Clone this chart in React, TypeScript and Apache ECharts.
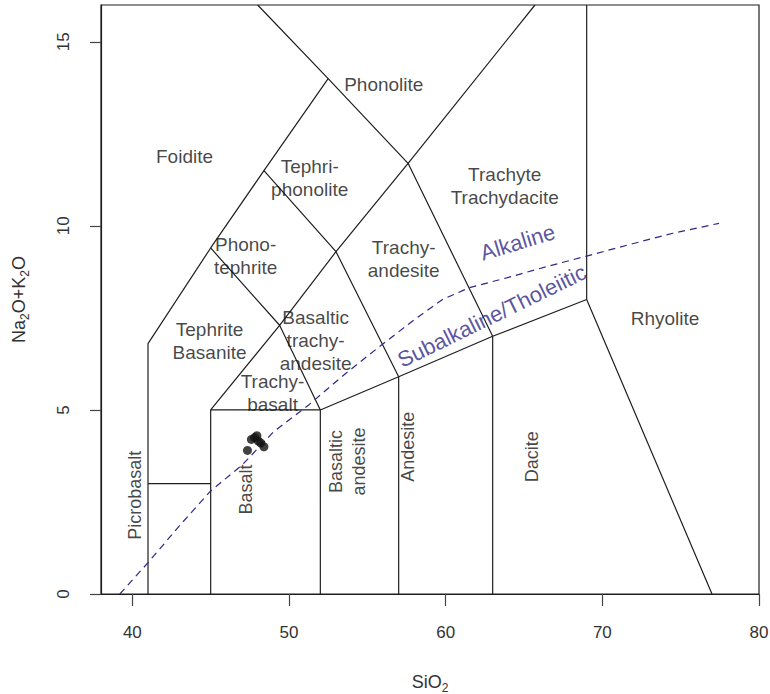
import React, { useEffect, useRef } from "react";
import * as echarts from "echarts";

// Axis ticks
const xTicks = [40, 50, 60, 70, 80];
const yTicks = [0, 5, 10, 15];

// Sample points (SiO2, Na2O+K2O)
const sampleSiO2 = [47.35, 47.6, 47.8, 47.95, 48.05, 48.2, 48.4];
const sampleAlkali = [3.9, 4.2, 4.25, 4.3, 4.15, 4.1, 4.0];

// Alkaline / subalkaline dividing curve (Irvine & Baragar)
const divideSiO2 = [39.2, 41, 43, 45, 47, 49, 51.3, 53.5, 55.8, 58, 59.8, 61.5, 64, 66.5, 69, 71.8, 74.5, 77.45];
const divideAlkali = [0, 0.85, 1.85, 2.8, 3.5, 4.4, 5.15, 5.95, 6.73, 7.45, 8.0, 8.32, 8.6, 8.9, 9.18, 9.5, 9.8, 10.07];

// TAS field boundaries (polylines, [SiO2, alkali])
const boundaryFoidite = [[41, 0], [41, 6.8], [45, 9.4], [48.4, 11.5], [52.5, 14], [48, 16]];
const boundaryPicrobasalt = [[41, 3], [45, 3]];
const boundaryBasalt = [[45, 0], [45, 5], [52, 5], [52, 0]];
const boundaryTrachybasalt = [[45, 5], [49.4, 7.3], [52, 5]];
const boundarySubalkalineTop = [[52, 5], [57, 5.9], [63, 7], [69, 8], [77, 0]];
const boundaryAndesite = [[57, 0], [57, 5.9]];
const boundaryDacite = [[63, 0], [63, 7]];
const boundaryRhyolite = [[69, 8], [69, 16]];
const boundaryPhonotephrite = [[45, 9.4], [49.4, 7.3], [53, 9.3], [57.6, 11.7], [65.7, 16]];
const boundaryTephriphonolite = [[48.4, 11.5], [53, 9.3], [57, 5.9]];
const boundaryPhonolite = [[52.5, 14], [57.6, 11.7], [63, 7]];
const boundaries = [
  boundaryFoidite, boundaryPicrobasalt, boundaryBasalt, boundaryTrachybasalt,
  boundarySubalkalineTop, boundaryAndesite, boundaryDacite, boundaryRhyolite,
  boundaryPhonotephrite, boundaryTephriphonolite, boundaryPhonolite,
];

// Field labels
const fieldNames = [
  "Foidite", "Phonolite", "Tephri-\nphonolite", "Trachyte\nTrachydacite", "Phono-\ntephrite",
  "Trachy-\nandesite", "Tephrite\nBasanite", "Basaltic\ntrachy-\nandesite", "Trachy-\nbasalt", "Rhyolite",
  "Picrobasalt", "Basalt", "Basaltic\nandesite", "Andesite", "Dacite",
];
const fieldX = [43.33, 56.05, 51.32, 63.77, 47.23, 57.32, 44.93, 51.7, 48.95, 74.0, 40.17, 47.27, 53.75, 57.58, 65.5];
const fieldY = [11.89, 13.85, 11.31, 11.08, 9.19, 9.09, 6.88, 6.89, 5.47, 7.49, 2.68, 2.84, 3.6, 4.0, 3.73];
const fieldRotate = [0, 0, 0, 0, 0, 0, 0, 0, 0, 0, 90, 90, 90, 90, 90];

// Series-divide labels
const divideNames = ["Alkaline", "Subalkaline/Tholeiitic"];
const divideLabelX = [64.6, 62.95];
const divideLabelY = [9.55, 7.55];
const divideLabelRotate = [17, 26];

const FONT = "'Liberation Sans', Arial, sans-serif";
const LINE = "#1e1e1e";
const BLUE = "#2f2788";

export default function App() {
  const ref = useRef<HTMLDivElement>(null);
  useEffect(() => {
    if (!ref.current) return;
    const chart = echarts.init(ref.current, undefined, { renderer: "svg" });
    const series: any[] = boundaries.map((b) => ({
      type: "line",
      data: b,
      symbol: "none",
      silent: true,
      lineStyle: { color: LINE, width: 1.2 },
      z: 2,
    }));
    series.push({
      type: "line",
      data: divideSiO2.map((x, i) => [x, divideAlkali[i]]),
      symbol: "none",
      silent: true,
      lineStyle: { color: BLUE, width: 1.2, type: [7, 5] },
      z: 3,
    });
    series.push({
      type: "scatter",
      data: sampleSiO2.map((x, i) => [x, sampleAlkali[i]]),
      symbol: "circle",
      symbolSize: 9,
      itemStyle: { color: "#111" },
      z: 5,
    });
    series.push({
      type: "scatter",
      symbolSize: 0,
      silent: true,
      z: 4,
      data: fieldNames.map((n, i) => ({
        value: [fieldX[i], fieldY[i]],
        name: n,
        label: { rotate: fieldRotate[i], fontSize: fieldRotate[i] ? 18 : 19 },
      })),
      label: {
        show: true,
        position: "inside",
        formatter: (p: any) => p.name,
        fontSize: 19,
        lineHeight: 23,
        color: "#151515",
        fontFamily: FONT,
        align: "center",
        verticalAlign: "middle",
      },
    });
    series.push({
      type: "scatter",
      symbolSize: 0,
      silent: true,
      z: 4,
      data: divideNames.map((n, i) => ({
        value: [divideLabelX[i], divideLabelY[i]],
        name: n,
        label: { rotate: divideLabelRotate[i] },
      })),
      label: {
        show: true,
        position: "inside",
        formatter: (p: any) => p.name,
        fontSize: 22,
        color: BLUE,
        fontFamily: FONT,
        align: "center",
        verticalAlign: "middle",
      },
    });

    chart.setOption({
      animation: false,
      backgroundColor: "#fff",
      textStyle: { fontFamily: FONT },
      grid: {
        left: 101,
        top: 5,
        right: 11,
        bottom: 100,
        show: true,
        borderColor: LINE,
        borderWidth: 1.2,
        backgroundColor: "transparent",
        containLabel: false,
        outerBoundsMode: "none",
      },
      xAxis: {
        type: "value",
        min: 38,
        max: 80,
        axisLine: { show: true, lineStyle: { color: LINE, width: 1.2 } },
        axisTick: { show: true, customValues: xTicks, length: 12, lineStyle: { color: "#444", width: 1.2 } },
        axisLabel: { customValues: xTicks, margin: 30, fontSize: 17, color: "#333", fontFamily: FONT },
        splitLine: { show: false },
        name: "{n|SiO}{s|2}",
        nameLocation: "middle",
        nameGap: 76,
        nameTextStyle: {
          rich: {
            n: { fontSize: 18, color: "#333", fontFamily: FONT, lineHeight: 24, verticalAlign: "middle" },
            s: { fontSize: 12, color: "#333", fontFamily: FONT, lineHeight: 12, verticalAlign: "bottom" },
          },
        },
      },
      yAxis: {
        type: "value",
        min: 0,
        max: 16,
        axisLine: { show: true, lineStyle: { color: LINE, width: 1.2 } },
        axisTick: { show: true, customValues: yTicks, length: 11, lineStyle: { color: "#444", width: 1.2 } },
        axisLabel: { customValues: yTicks, rotate: 90, margin: 29, fontSize: 17, color: "#333", fontFamily: FONT },
        splitLine: { show: false },
        name: "{n|Na}{s|2}{n|O+K}{s|2}{n|O}",
        nameLocation: "middle",
        nameGap: 70,
        nameRotate: 90,
        nameTextStyle: {
          rich: {
            n: { fontSize: 18, color: "#333", fontFamily: FONT, lineHeight: 24, verticalAlign: "middle" },
            s: { fontSize: 12, color: "#333", fontFamily: FONT, lineHeight: 12, verticalAlign: "bottom" },
          },
        },
      },
      series,
    });
    return () => chart.dispose();
  }, []);
  return (
    <div
      ref={ref}
      style={{ position: "fixed", left: 0, top: 0, width: 770, height: 694, background: "#fff" }}
    />
  );
}
